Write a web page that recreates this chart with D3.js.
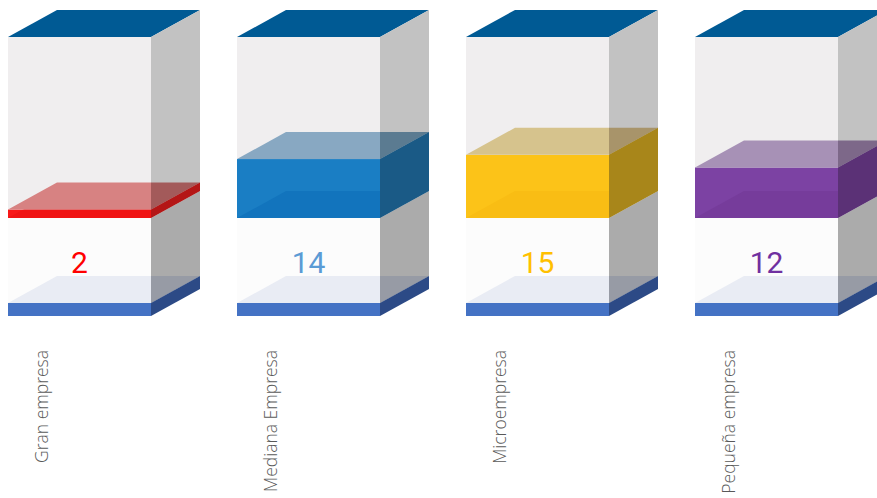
<!DOCTYPE html>
<html>
<head>
<meta charset="utf-8">
<script src="https://cdn.jsdelivr.net/npm/d3@7"></script>
<style>
  html, body { margin: 0; padding: 0; background: #ffffff; }
  svg { display: block; }
</style>
</head>
<body>
<svg id="chart" width="877" height="498"></svg>
<script>
// Company size categories and their counts
const categories = ["Gran empresa", "Mediana Empresa", "Microempresa", "Pequeña empresa"];
const values = [2, 14, 15, 12];

// Palette for each category: front, top, top seen through the glass side, side, lower shade
const frontColors = ["#f81818", "#1a7ec4", "#fcc318", "#7c42a3"];
const topColors = ["#d78282", "#88a8c2", "#d6c38d", "#a791b6"];
const topSideColors = ["#a35a5a", "#5b7b91", "#a8946a", "#7d6889"];
const sideColors = ["#b41616", "#1a5a86", "#a8861a", "#5b3176"];
const lowerColors = ["#f01414", "#1274bd", "#f9bd14", "#763c9b"];
const labelColors = ["#ff0000", "#5b9bd5", "#ffc000", "#7030a0"];

const svg = d3.select("#chart");

// Layout of each glass column
const boxW = 143;       // front face width
const dx = 49, dy = -27; // depth offset of the back faces
const floorY = 303;     // top of the base strip (front)
const bottomY = 316;    // bottom of the base strip (front)

const total = d3.sum(values);
const x = d3.scaleBand().domain(categories).range([8, 8 + 229 * categories.length]).paddingInner(0);
const y = d3.scaleLinear().domain([0, total]).range([218, 37]);

const poly = pts => pts.map(p => p.join(",")).join(" ");

const g = svg.selectAll("g.col")
  .data(categories.map((c, i) => ({ c, v: values[i], i })))
  .join("g")
  .attr("class", "col");

g.each(function (d) {
  const sel = d3.select(this);
  const x0 = x(d.c), x1 = x0 + boxW;
  const yTop = y(total), yBase = y(0), yV = y(d.v);

  // top lid
  sel.append("polygon").attr("points", poly([[x0, yTop], [x0 + dx, yTop + dy], [x1 + dx, yTop + dy], [x1, yTop]]))
    .attr("fill", "#005a94");
  // upper glass: front and side
  sel.append("rect").attr("x", x0).attr("y", yTop).attr("width", boxW).attr("height", yBase - yTop).attr("fill", "#f0eeef");
  sel.append("polygon").attr("points", poly([[x1, yTop], [x1 + dx, yTop + dy], [x1 + dx, yBase + dy], [x1, yBase]]))
    .attr("fill", "#c2c2c2");
  // lower glass pedestal: front and side
  sel.append("rect").attr("x", x0).attr("y", yBase).attr("width", boxW).attr("height", floorY - yBase).attr("fill", "#fcfcfc");
  sel.append("polygon").attr("points", poly([[x1, yBase], [x1 + dx, yBase + dy], [x1 + dx, floorY + dy], [x1, floorY]]))
    .attr("fill", "#ababab");
  // floor plane
  sel.append("polygon").attr("points", poly([[x0, floorY], [x0 + dx, floorY + dy], [x1, floorY + dy], [x1, floorY]]))
    .attr("fill", "#e9ecf4");
  sel.append("polygon").attr("points", poly([[x1, floorY + dy], [x1 + dx, floorY + dy], [x1, floorY]]))
    .attr("fill", "#979ba5");
  // base strip
  sel.append("rect").attr("x", x0).attr("y", floorY).attr("width", boxW).attr("height", bottomY - floorY).attr("fill", "#4472c4");
  sel.append("polygon").attr("points", poly([[x1, floorY], [x1 + dx, floorY + dy], [x1 + dx, bottomY + dy], [x1, bottomY]]))
    .attr("fill", "#2c4a86");

  // value block
  const i = d.i;
  sel.append("rect").attr("x", x0).attr("y", yV).attr("width", boxW).attr("height", yBase - yV).attr("fill", frontColors[i]);
  // bottom face of the block seen through the front
  const clipId = "clip" + i;
  sel.append("clipPath").attr("id", clipId).append("rect")
    .attr("x", x0).attr("y", yV).attr("width", boxW).attr("height", yBase - yV);
  sel.append("polygon").attr("clip-path", `url(#${clipId})`)
    .attr("points", poly([[x0, yBase], [x0 + dx, yBase + dy], [x1, yBase + dy], [x1, yBase]]))
    .attr("fill", lowerColors[i]);
  // top face of the block
  sel.append("polygon").attr("points", poly([[x0, yV], [x0 + dx, yV + dy], [x1, yV + dy], [x1, yV]]))
    .attr("fill", topColors[i]);
  sel.append("polygon").attr("points", poly([[x1, yV + dy], [x1 + dx, yV + dy], [x1, yV]]))
    .attr("fill", topSideColors[i]);
  // right face of the block
  sel.append("polygon").attr("points", poly([[x1, yV], [x1 + dx, yV + dy], [x1 + dx, yBase + dy], [x1, yBase]]))
    .attr("fill", sideColors[i]);

  // value label
  sel.append("text")
    .attr("x", x0 + boxW / 2)
    .attr("y", 273)
    .attr("text-anchor", "middle")
    .attr("font-family", "Roboto, 'Noto Sans', sans-serif")
    .attr("font-size", 30)
    .attr("fill", labelColors[i])
    .text(d.v);

  // category label, rotated
  sel.append("text")
    .attr("transform", `translate(${x0 + 40},350) rotate(-90)`)
    .attr("text-anchor", "end")
    .attr("font-family", "'Open Sans', sans-serif")
    .attr("font-weight", 300)
    .attr("font-size", 17.5)
    .attr("fill", "#595959")
    .text(d.c);
});
</script>
</body>
</html>
